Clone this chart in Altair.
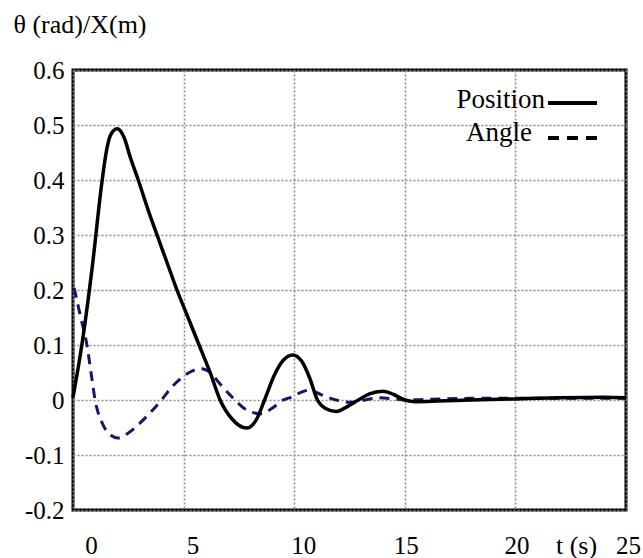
import altair as alt
import pandas as pd

# ---- data ----
pos_t = [0, 0.4, 0.85, 1.32, 1.5, 1.7, 2.0, 2.3, 2.6, 2.95, 3.4, 3.8,
         4.25, 4.7, 5.2, 5.7, 6.2, 6.65, 7.2, 7.85, 8.3, 8.66, 9.1, 9.5, 9.93, 10.35,
         10.7, 11.05, 11.4, 11.9, 12.4, 12.9, 13.4, 14.0, 14.5, 15.0, 15.5, 16.5, 18,
         20, 22, 24, 25]
pos_y = [0.005, 0.1, 0.235, 0.4, 0.45, 0.482, 0.493, 0.478, 0.44, 0.40,
         0.345, 0.30, 0.25, 0.20, 0.15, 0.10, 0.05, 0.0, -0.035, -0.051, -0.035, 0.0,
         0.045, 0.072, 0.082, 0.07, 0.04, 0.0, -0.015, -0.021, -0.012, 0.0, 0.011,
         0.016, 0.01, 0.0, -0.003, -0.002, 0.0, 0.002, 0.004, 0.005, 0.004]

ang_t = [0.05, 0.35, 0.63, 0.85, 1.0, 1.3, 1.6, 2.03, 2.5, 3.0, 3.47, 4.0, 4.5, 4.96,
         5.4, 5.8, 6.2, 6.63, 7.2, 7.85, 8.5, 9.0, 9.5, 9.93, 10.3, 10.7, 11.2, 11.9,
         12.5, 13.2, 13.8, 14.5, 15.0, 16, 18, 20, 22, 25]
ang_y = [0.204, 0.15, 0.1, 0.04, 0.0, -0.04, -0.06, -0.069, -0.06, -0.043, -0.024, 0.0,
         0.025, 0.042, 0.053, 0.057, 0.05, 0.03, 0.005, -0.018, -0.025, -0.015, 0.0,
         0.006, 0.014, 0.018, 0.01, 0.0, -0.004, 0.0, 0.004, 0.002, 0.0, 0.001, 0.003,
         0.003, 0.003, 0.003]

x_ticks = [0, 5, 10, 15, 20, 25]
y_ticks = [-0.2, -0.1, 0, 0.1, 0.2, 0.3, 0.4, 0.5, 0.6]

legend_names = ["Position", "Angle"]

FONT = "Liberation Serif"

pos_df = pd.DataFrame({"t": pos_t, "v": pos_y})
ang_df = pd.DataFrame({"t": ang_t, "v": ang_y})

x_scale = alt.Scale(domain=[0, 25], nice=False, zero=False)
y_scale = alt.Scale(domain=[-0.2, 0.6], nice=False, zero=False)

x_axis = alt.Axis(
    values=x_ticks, title="t (s)", grid=True, ticks=False, tickSize=0, domain=False,
    labelBaseline="alphabetic", labelPadding=43, labelFlush=False,
    labelOffset={"condition": [
        {"test": "datum.value == 0", "value": 18},
        {"test": "datum.value == 5", "value": 9},
        {"test": "datum.value == 10", "value": 9},
        {"test": "datum.value == 25", "value": 2},
    ], "value": 1},
    titleX=503, titleY=43, titleBaseline="alphabetic", titleAlign="center",
)
y_axis = alt.Axis(
    values=y_ticks, title="θ (rad)/X(m)", grid=True, ticks=False, tickSize=0, domain=False,
    labelPadding=9, labelFlush=False,
    labelExpr="datum.value == 0 ? '0\u00a0\u00a0' : replace(format(datum.value, '.1f'), '\u2212', '-')",
    titleAngle=0, titleX=-60, titleY=-38, titleAlign="left", titleBaseline="alphabetic",
)

angle_line = alt.Chart(ang_df).mark_line(
    color="#16166a", strokeWidth=3, strokeDash=[10, 7], interpolate="monotone"
).encode(
    x=alt.X("t:Q", scale=x_scale, axis=x_axis),
    y=alt.Y("v:Q", scale=y_scale, axis=y_axis),
)

pos_line = alt.Chart(pos_df).mark_line(
    color="black", strokeWidth=3.5, interpolate="monotone"
).encode(
    x=alt.X("t:Q", scale=x_scale, axis=x_axis),
    y=alt.Y("v:Q", scale=y_scale, axis=y_axis),
)

# manual legend (text left of sample line)
leg_pos_text = alt.Chart(pd.DataFrame({"name": [legend_names[0]]})).mark_text(
    font=FONT, fontSize=27, align="right", baseline="alphabetic", color="black"
).encode(text="name:N", x=alt.value(472), y=alt.value(38))
leg_pos_line = alt.Chart(pd.DataFrame({"name": [legend_names[0]]})).mark_rule(
    color="black", strokeWidth=4
).encode(x=alt.value(475), x2=alt.value(524), y=alt.value(33))
leg_ang_text = alt.Chart(pd.DataFrame({"name": [legend_names[1]]})).mark_text(
    font=FONT, fontSize=27, align="right", baseline="alphabetic", color="black"
).encode(text="name:N", x=alt.value(459), y=alt.value(71))
leg_ang_line = alt.Chart(pd.DataFrame({"name": [legend_names[1]]})).mark_rule(
    color="black", strokeWidth=4, strokeDash=[11, 8]
).encode(x=alt.value(475), x2=alt.value(524), y=alt.value(68))

chart = alt.layer(
    angle_line, pos_line, leg_pos_text, leg_pos_line, leg_ang_text, leg_ang_line
).properties(
    width=553, height=440,
    padding={"left": 73, "top": 70, "right": 17, "bottom": 48},
    autosize="none",
    background="white",
).configure_view(
    stroke="black", strokeWidth=3
).configure_axis(
    labelFont=FONT, labelFontSize=25, labelColor="black",
    titleFont=FONT, titleFontSize=26, titleFontWeight="normal", titleColor="black",
    gridColor="#8c8c8c", gridDash=[2, 2], gridWidth=1.6,
)

chart.save("out.html", embed_options={"renderer": "svg", "actions": False})
